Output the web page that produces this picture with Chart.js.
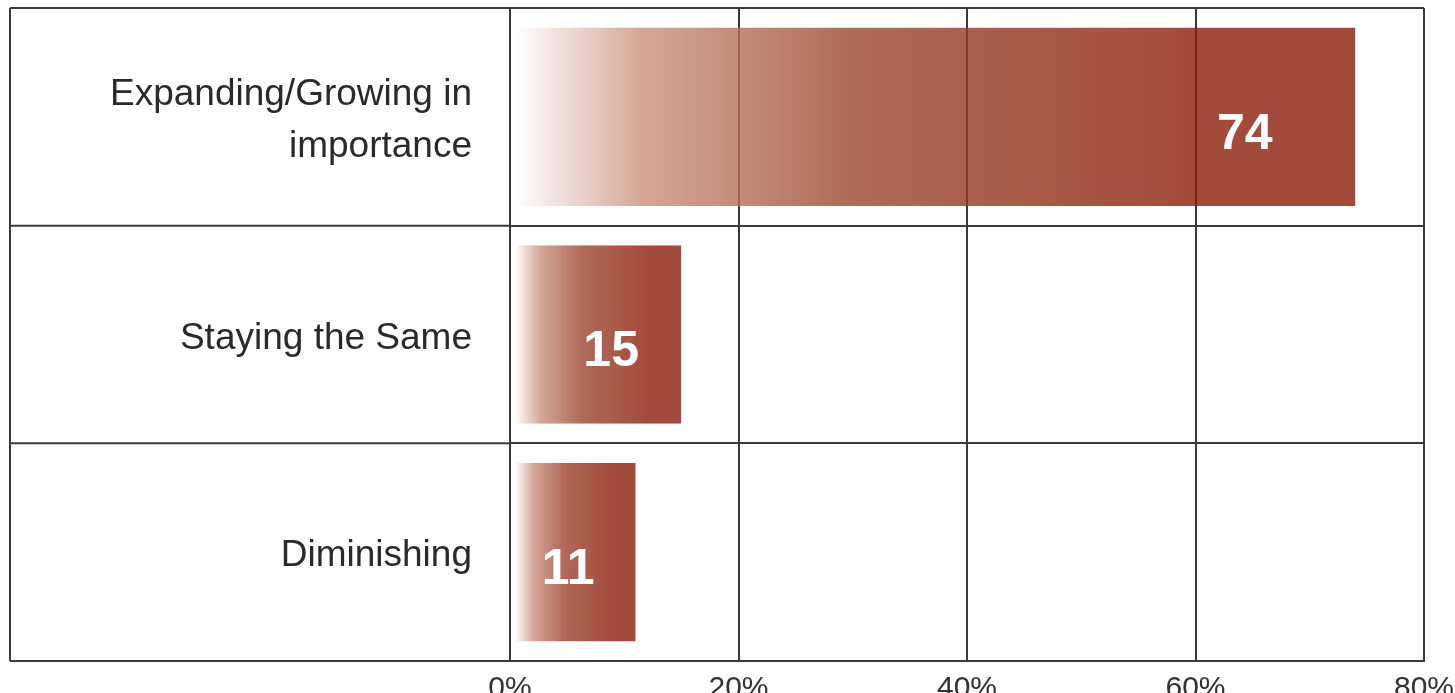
<!DOCTYPE html>
<html lang="en">
<head>
  <meta charset="UTF-8">
  <title>Importance Outlook</title>
  <style>
    html, body {
      margin: 0;
      padding: 0;
      background: #fff;
      overflow: hidden;
    }
    .wrap {
      width: 1480px;
      height: 720px;
    }
  </style>
</head>
<body>
  <div class="wrap">
    <canvas id="outlook"></canvas>
  </div>
  <script src="https://cdn.jsdelivr.net/npm/chart.js"></script>
  <script>
    // Chart data
    const categories = [["Expanding/Growing in", "importance"], "Staying the Same", "Diminishing"];
    const percents = [74, 15, 11];
    const tickValues = [0, 20, 40, 60, 80];

    const lineColor = "#3a3a3a";
    const solidRed = "rgba(139,30,11,0.8)";

    // Fading red fill, built for each bar from its own length
    function barFill(context) {
      const xs = context.chart.scales.x;
      if (!context.chart.chartArea || !xs) return solidRed;
      const left = xs.getPixelForValue(0) + 5;
      const right = xs.getPixelForValue(percents[context.dataIndex]);
      if (!isFinite(left) || !isFinite(right) || right <= left) return solidRed;
      const g = context.chart.ctx.createLinearGradient(left, 0, right, 0);
      g.addColorStop(0, "rgba(255,255,255,0.8)");
      g.addColorStop(0.15, "rgba(201,146,126,0.8)");
      g.addColorStop(0.4, "rgba(156,69,46,0.8)");
      g.addColorStop(0.8, solidRed);
      g.addColorStop(1, solidRed);
      return g;
    }

    // Left side box lines (label column)
    const labelBox = {
      id: "labelBox",
      beforeDatasetsDraw(chart) {
        const ctx = chart.ctx;
        const area = chart.chartArea;
        const y = chart.scales.y;
        const half = (y.getPixelForValue(1) - y.getPixelForValue(0)) / 2;
        const x0 = 10;
        ctx.save();
        ctx.strokeStyle = lineColor;
        ctx.lineWidth = 2;
        ctx.beginPath();
        ctx.moveTo(x0, area.top);
        ctx.lineTo(x0, area.bottom);
        for (let i = 0; i <= categories.length; i++) {
          const py = i === categories.length ? area.bottom : y.getPixelForValue(i) - half;
          ctx.moveTo(x0, py);
          ctx.lineTo(area.left, py);
        }
        ctx.stroke();
        ctx.restore();
      }
    };

    // Value labels inside the bars
    const valueLabels = {
      id: "valueLabels",
      afterDatasetsDraw(chart) {
        const ctx = chart.ctx;
        const meta = chart.getDatasetMeta(0);
        ctx.save();
        ctx.fillStyle = "#fff";
        ctx.font = "bold 50px 'Liberation Sans', Arial, sans-serif";
        ctx.textAlign = "center";
        ctx.textBaseline = "middle";
        meta.data.forEach((bar, i) => {
          const width = bar.x - bar.base;
          const cx = bar.x - 60 - width * 0.06;
          ctx.fillText(String(percents[i]), cx, bar.y + 18);
        });
        ctx.restore();
      }
    };

    const ctx = document.getElementById("outlook").getContext("2d");
    new Chart(ctx, {
      type: "bar",
      data: {
        labels: categories,
        datasets: [{
          data: percents,
          backgroundColor: barFill,
          borderColor: "rgba(0,0,0,0)",
          borderWidth: { left: 5, top: 0, right: 0, bottom: 0 },
          borderSkipped: false,
          barPercentage: 0.82,
          categoryPercentage: 1
        }]
      },
      options: {
        indexAxis: "y",
        responsive: true,
        maintainAspectRatio: false,
        animation: false,
        layout: {
          padding: { left: 10, top: 8, right: 56, bottom: 3 }
        },
        plugins: {
          legend: { display: false },
          tooltip: { enabled: false }
        },
        scales: {
          x: {
            min: 0,
            max: 80,
            afterBuildTicks(scale) {
              scale.ticks = tickValues.map(v => ({ value: v }));
            },
            grid: {
              color: lineColor,
              lineWidth: 2,
              drawTicks: false
            },
            border: { color: lineColor, width: 2 },
            ticks: {
              padding: 10,
              color: "#333",
              font: { family: "'Liberation Sans', Arial, sans-serif", size: 30 },
              callback: v => v + "%"
            }
          },
          y: {
            afterFit(scale) {
              scale.width = 500;
              scale.paddingTop = 0;
              scale.paddingBottom = 0;
            },
            grid: {
              color: lineColor,
              lineWidth: 2,
              drawTicks: false,
              offset: true
            },
            border: { color: lineColor, width: 2 },
            ticks: {
              padding: 38,
              labelOffset: 4,
              color: "#2a2a2a",
              font: { family: "'Liberation Sans', Arial, sans-serif", size: 37, lineHeight: 1.4 }
            }
          }
        }
      },
      plugins: [labelBox, valueLabels]
    });
  </script>
</body>
</html>
